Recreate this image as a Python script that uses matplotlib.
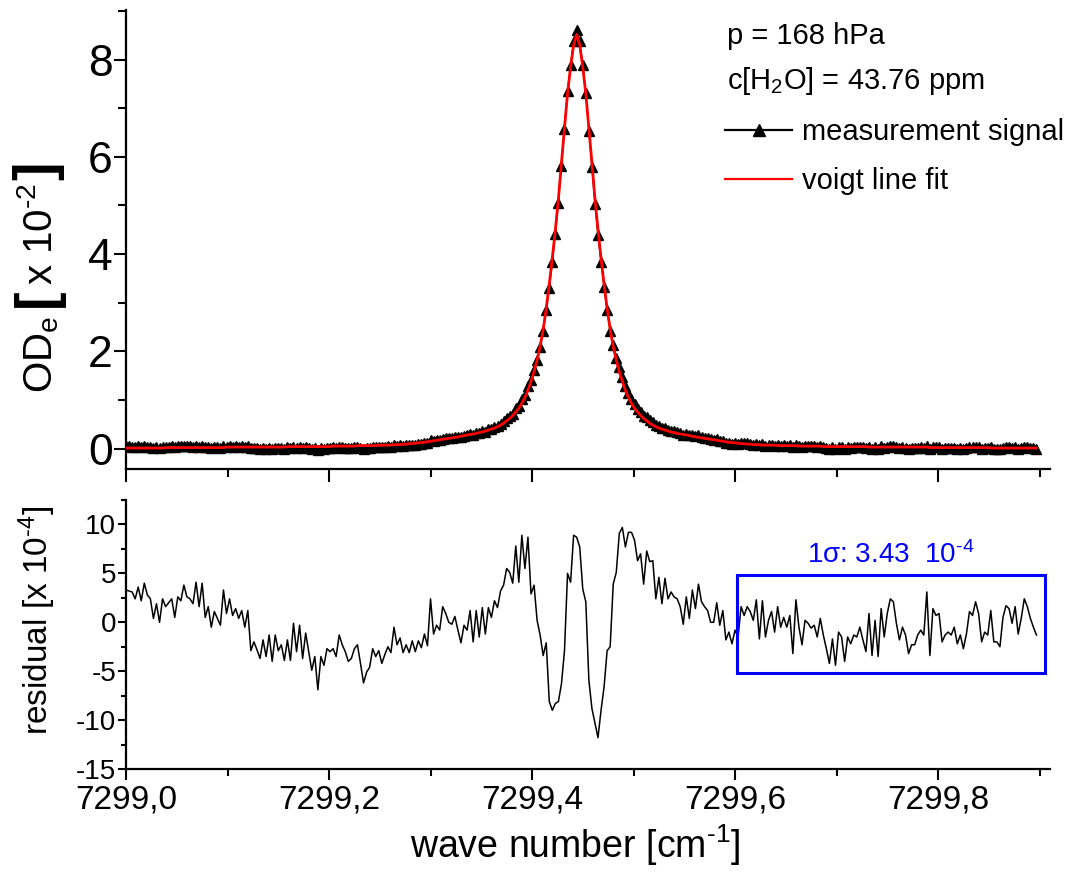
import numpy as np
import matplotlib
matplotlib.use('Agg')
import matplotlib.pyplot as plt
import matplotlib.ticker as mtick
from matplotlib.lines import Line2D
from matplotlib.patches import Rectangle

plt.rcParams['font.family'] = ['Liberation Sans', 'DejaVu Sans']
plt.rcParams['mathtext.fontset'] = 'custom'
plt.rcParams['mathtext.rm'] = 'Liberation Sans'
plt.rcParams['mathtext.it'] = 'Liberation Sans:italic'
plt.rcParams['mathtext.bf'] = 'Liberation Sans:bold'
plt.rcParams['axes.unicode_minus'] = False

################ data ################
# wave number grid: 300 points, 0.003 cm-1 apart
wn_start = 7299.0
wn_step = 0.003
n_points = 300
# grid index of the line centre
i_center = 148

# voigt fit [x 10^-2] vs. distance from line centre in grid steps (0..151)
fit_profile = ([8.52, 8.30, 7.85, 7.30, 6.60, 5.88, 5.14, 4.50, 3.92, 3.38,
                2.88, 2.45, 2.10, 1.82, 1.58, 1.38, 1.20, 1.05, 0.93, 0.83,
                0.75, 0.68, 0.62, 0.57, 0.52, 0.48, 0.45, 0.42, 0.40, 0.38,
                0.36, 0.34, 0.33, 0.31, 0.30, 0.29, 0.28, 0.27, 0.25, 0.24,
                0.23, 0.22, 0.21, 0.20, 0.19, 0.18, 0.17, 0.16, 0.15, 0.14,
                0.13, 0.12, 0.12, 0.11, 0.10, 0.10, 0.09, 0.09, 0.08, 0.08,
                0.08] + [0.07] * 5 + [0.06] * 7 + [0.05] * 8 + [0.04] * 15
               + [0.03] * 20 + [0.02] * 20 + [0.01] * 16)

# residual (measurement - fit) [x 10^-4], one value per grid point
residual = [3.3, 3.2, 3.1, 2.4, 3.6, 2.2, 4.0, 2.8, 2.4, 0.4,
            1.9, 0.0, 2.4, 1.6, 2.0, 2.4, 0.5, 2.6, 2.2, 3.8,
            2.6, 2.4, 1.9, 4.1, 1.6, 4.0, 0.5, 1.6, -0.5, 1.1,
            0.4, -0.3, 3.3, 0.9, 2.4, 0.7, 1.4, 0.4, 1.2, -0.5,
            1.2, -2.9, -2.0, -2.8, -3.7, -1.8, -3.5, -1.3, -4.0, -1.3,
            -2.9, -2.3, -3.9, -1.8, -3.9, -0.1, -3.0, -0.3, -3.7, -1.1,
            -3.0, -4.9, -3.5, -6.9, -3.5, -4.4, -2.7, -3.0, -2.7, -3.5,
            -1.3, -2.3, -3.0, -4.0, -3.7, -2.7, -2.3, -4.2, -6.2, -5.1,
            -4.6, -2.7, -3.5, -2.9, -4.2, -3.3, -2.5, -3.1, -0.5, -2.3,
            -1.6, -3.1, -2.3, -3.1, -1.9, -3.0, -1.9, -2.6, -1.2, -2.4,
            2.4, -1.2, -0.3, -0.8, 1.6, 0.9, 0.0, -0.2, 0.6, -0.8,
            -2.1, -0.3, -0.8, 1.2, -2.0, 1.2, -1.5, 1.5, -1.2, 1.5,
            0.5, 2.2, 1.5, 3.2, 3.8, 5.5, 5.1, 4.0, 7.8, 4.1,
            8.9, 5.5, 8.7, 2.9, 3.8, 0.2, -1.3, -3.4, -2.1, -8.1,
            -9.0, -8.3, -8.1, -6.3, -2.9, 5.0, 4.1, 8.9, 8.7, 7.7,
            3.4, 2.1, -5.9, -8.8, -10.3, -11.8, -9.0, -6.6, -2.9, -2.5,
            3.9, 5.1, 9.1, 9.7, 7.7, 9.2, 9.2, 8.4, 6.3, 7.0,
            3.9, 7.3, 6.2, 6.3, 2.4, 4.6, 1.9, 4.5, 2.4, 3.1,
            2.6, 2.4, 1.6, -0.2, 2.6, 0.4, 3.3, 1.4, 3.9, 2.1,
            1.6, 1.2, 0.0, 0.0, 2.0, -0.3, 1.2, -1.8, -1.0, -2.2,
            -0.8, -1.5, 1.6, 0.7, 1.6, 1.1, 0.2, 2.3, -1.7, 2.2,
            -1.5, 0.2, 1.1, -1.0, 1.6, -0.5, 0.5, -0.5, 0.7, -3.2,
            2.3, -0.5, -2.3, 0.2, -0.1, -0.6, -0.3, -1.5, 0.4, -1.3,
            -2.7, -4.2, -1.7, -4.4, -1.0, -1.5, -4.0, -1.5, -2.2, -1.3,
            -1.5, -0.5, -1.8, -3.0, 0.9, -3.4, 0.2, -3.5, 1.4, -1.5,
            0.9, 2.4, 2.1, -0.1, -1.8, -0.5, -1.3, -3.2, -2.3, -2.3,
            -1.3, -0.8, -1.3, 3.1, -3.4, 1.4, 0.7, 0.9, -2.0, -1.3,
            -1.0, -1.3, -0.5, -2.2, -1.3, -2.7, -1.2, 1.1, 0.7, 2.1,
            0.9, -2.0, -1.0, -1.3, 1.2, -2.0, -2.0, -2.5, 0.5, 1.7,
            1.4, -0.1, 1.6, -1.2, 0.4, 2.4, 1.6, 0.4, -0.5, -1.3]

# noise estimate window and result
sigma_window = (7299.602, 7299.905)
sigma_value = '3.43'
pressure = '168'
concentration = '43.76'
##########################################

wn = wn_start + wn_step * np.arange(n_points)
od_fit = np.array(fit_profile[i_center:0:-1] + fit_profile[:n_points - i_center])
res = np.array(residual)
od_meas = od_fit + res / 100.0   # residual is in 1e-4, OD in 1e-2

W, H = 1079, 883
fig = plt.figure(figsize=(W / 100, H / 100), dpi=100)
ax1 = fig.add_axes([0.1168, 0.4689, 0.8560, 0.5198])
ax2 = fig.add_axes([0.1168, 0.1291, 0.8560, 0.3046], sharex=ax1)

# top panel
ax1.plot(wn, od_meas, color='black', lw=1.0, marker='^', ms=6.5,
         mec='black', mfc='black', zorder=2)
ax1.plot(wn, od_fit, color='red', lw=2.0, zorder=3)
ax1.set_ylim(-0.42, 9.02)
ax1.set_xlim(7299.0, 7299.91)
ax1.yaxis.set_major_locator(mtick.MultipleLocator(2))
ax1.yaxis.set_minor_locator(mtick.MultipleLocator(1))
ax1.tick_params(axis='y', which='major', direction='out', length=9, width=1.5,
                labelsize=32, pad=0.5)
ax1.tick_params(axis='y', which='minor', direction='out', length=5.5, width=1.5)
ax1.tick_params(axis='x', which='major', direction='out', length=9, width=1.5,
                labelbottom=False)
ax1.tick_params(axis='x', which='minor', direction='out', length=5.5, width=1.5)

ax1.text(0.651, 0.926, 'p = %s hPa' % pressure, transform=ax1.transAxes,
         fontsize=21, va='baseline', ha='left')
ax1.text(0.651, 0.828, r'c[H$_\mathregular{2}$O] = %s ppm' % concentration,
         transform=ax1.transAxes, fontsize=21, va='baseline', ha='left')
handles = [Line2D([], [], color='black', lw=1.6, marker='^', ms=8),
           Line2D([], [], color='red', lw=1.6)]
ax1.legend(handles, ['measurement signal', 'voigt line fit'], loc='upper left',
           bbox_to_anchor=(0.6486, 0.7636), frameon=False, fontsize=21,
           handlelength=2.3, handletextpad=0.35, labelspacing=0.7,
           borderpad=0, borderaxespad=0, numpoints=1)

# y label of the top panel, built from pieces so the brackets can be larger
renderer = fig.canvas.get_renderer()
x_base = 52 / W
y_pos = (H - 393) / H
label_parts = [(r'OD$_\mathregular{e}$', 29, 'normal', 9),
               ('[', 40, 'bold', 3),
               (r'x 10$^{\text{-2}}$', 29, 'normal', 3),
               (']', 40, 'bold', 0)]
for s, size, weight, gap in label_parts:
    t = fig.text(x_base, y_pos, s, rotation=90, rotation_mode='anchor',
                 ha='left', va='baseline', fontsize=size, fontweight=weight)
    bb = t.get_window_extent(renderer)
    y_pos += (bb.height + gap) / H

# bottom panel
ax2.plot(wn, res, color='black', lw=1.1)
ax2.set_ylim(-15, 12.5)
ax2.yaxis.set_major_locator(mtick.MultipleLocator(5))
ax2.yaxis.set_minor_locator(mtick.MultipleLocator(2.5))
ax2.xaxis.set_major_locator(mtick.MultipleLocator(0.2))
ax2.xaxis.set_minor_locator(mtick.MultipleLocator(0.1))
ax2.xaxis.set_major_formatter(mtick.FuncFormatter(lambda v, p: ('%.1f' % v).replace('.', ',')))
ax2.tick_params(axis='y', which='major', direction='out', length=6, width=1.5,
                labelsize=20, pad=1)
ax2.tick_params(axis='y', which='minor', direction='out', length=3.5, width=1.5)
ax2.tick_params(axis='x', which='major', direction='out', length=8, width=1.5,
                labelsize=24, pad=3)
ax2.tick_params(axis='x', which='minor', direction='out', length=5, width=1.5)
ax2.set_ylabel(r'residual [x 10$^{\text{-4}}$]', fontsize=24)
ax2.yaxis.set_label_coords(-0.0736, 0.553)
ax2.set_xlabel(r'wave number [cm$^{\text{-1}}$]', fontsize=27, va='center')
ax2.xaxis.set_label_coords(0.486, -0.282)

ax2.add_patch(Rectangle((sigma_window[0], -5.2), sigma_window[1] - sigma_window[0], 10.0,
                        fill=False, ec='blue', lw=2.2, zorder=4))
ax2.text(sum(sigma_window) / 2, 6.1, '1\u03c3: %s  10$^{\\text{-4}}$' % sigma_value,
         color='blue', fontsize=20, ha='center', va='baseline')

for ax in (ax1, ax2):
    ax.spines['top'].set_visible(False)
    ax.spines['right'].set_visible(False)
    ax.spines['left'].set_linewidth(1.6)
    ax.spines['bottom'].set_linewidth(1.6)

plt.savefig('out.png', dpi=100)
